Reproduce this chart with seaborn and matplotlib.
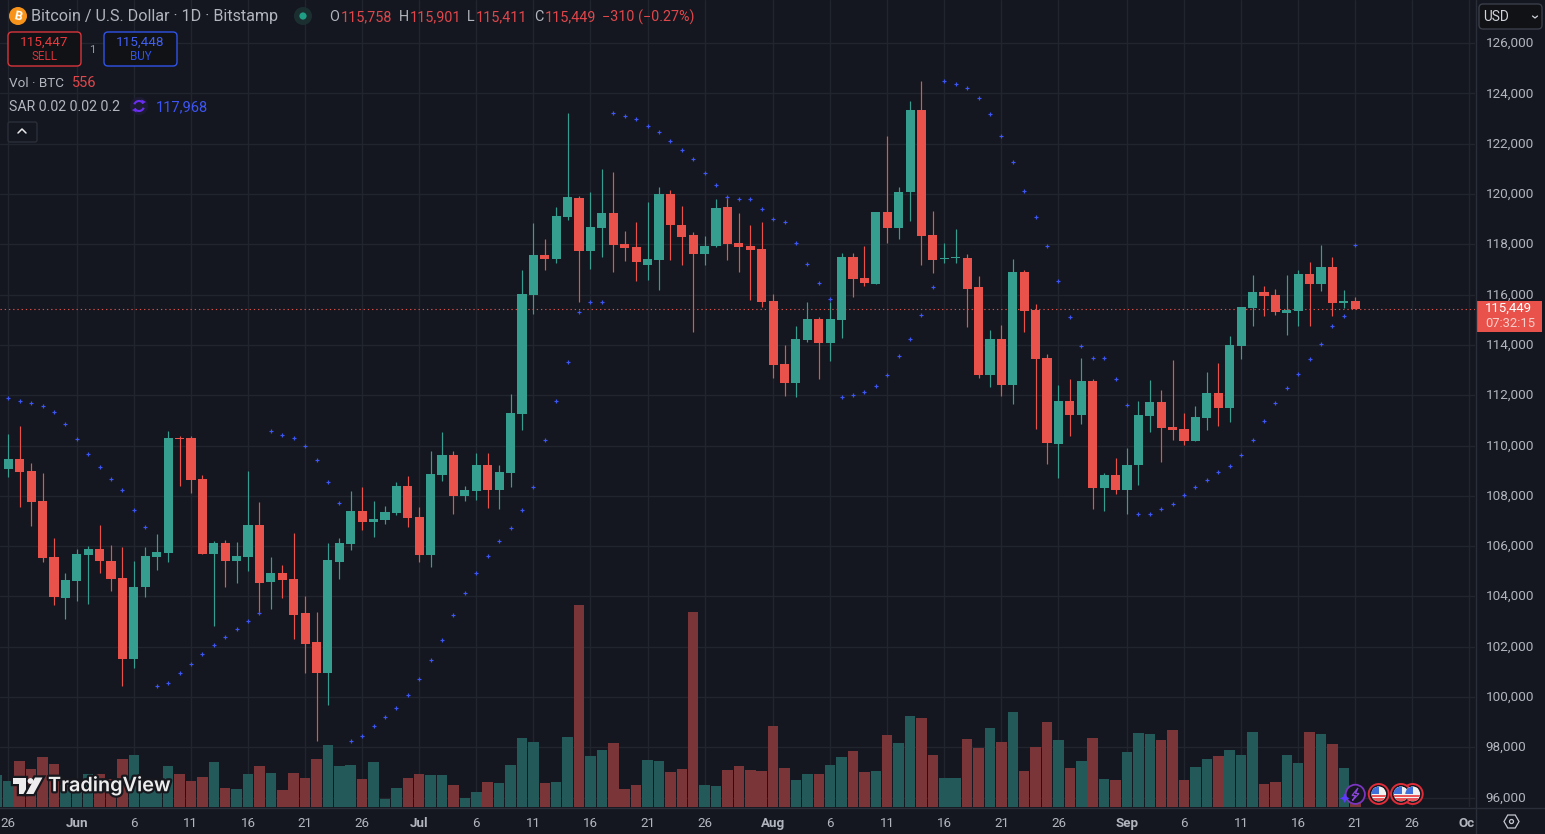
import numpy as np
import pandas as pd
import matplotlib
matplotlib.use("Agg")
import matplotlib.pyplot as plt
import matplotlib.patheffects as pe
from matplotlib.patches import Arc, Circle, FancyBboxPatch, Polygon, Rectangle, RegularPolygon
from matplotlib.transforms import ScaledTranslation
import seaborn as sns

# ---------- data ----------
opens = [109070,109470,108990,107800,105570,103940,104610,105650,105890,105410,
         104730,101510,104380,105570,105730,110300,110300,108670,105690,106130,
         105410,105570,106840,104570,104930,104690,103340,102190,100950,105370,
         106090,107400,106960,107040,107320,108390,107160,105650,108830,109630,
         108000,108190,109230,108230,108910,111260,115990,117580,117420,119090,
         119850,117740,118660,119250,118020,117900,117180,117380,120010,118780,
         118380,117620,117940,119490,118060,117940,117820,115750,113250,112490,
         114200,115040,114080,115000,117500,116670,116430,119290,118660,120090,
         123350,118380,117420,117460,117460,116310,112810,114240,112410,116910,
         115400,113490,110060,111780,111220,112570,108310,108830,108230,109230,
         111180,111740,110740,110660,110180,111100,112090,111500,113960,115470,
         116110,115990,115280,115360,116830,116430,117100,115670,115758]
closes = [109470,108950,107760,105530,103980,104650,105690,105890,105410,104690,
          101510,104380,105610,105770,110300,110260,108630,105690,106130,105410,
          105610,106840,104530,104930,104650,103260,102110,100950,105450,106130,
          107400,106960,107080,107360,108390,107120,105650,108870,109630,108000,
          108230,109230,108230,108950,111300,116030,117580,117420,119130,119890,
          117740,118700,119250,117980,117860,117300,117420,120010,118780,118300,
          117620,117940,119450,118020,117900,117780,115710,113210,112490,114240,
          115040,114080,115040,117500,116630,116470,119290,118660,120090,123350,
          118340,117380,117460,117500,116230,112810,114240,112410,116910,115360,
          113450,110100,111780,111220,112570,108310,108830,108230,109230,111220,
          111740,110700,110620,110180,111140,112090,111500,114000,115510,116110,
          115950,115320,115400,116830,116430,117100,115670,115750,115449]
highs = [110460,110780,109310,108910,106320,104930,105890,106010,106840,106050,
         105970,105410,105970,106480,110580,110380,110380,108830,106200,106240,
         106170,108990,107760,105570,105250,106520,104020,103380,106130,106320,
         108190,108350,107800,107600,108550,108790,107560,109790,110540,109790,
         108390,109710,109710,109230,112050,116990,118860,118220,119490,123230,
         119930,120090,121000,120880,118540,118900,119690,120290,120170,119530,
         118500,118340,119810,119930,119250,118780,118900,116030,114000,114760,
         115710,115120,115710,117660,117660,117940,119290,122320,120290,123710,
         124500,119330,118060,118620,117620,116750,114600,114800,117420,116990,
         115630,113640,112410,112650,113490,112650,108910,109510,109900,111780,
         112610,112210,113410,111300,111580,112930,113290,114360,115510,116790,
         116350,116230,116790,116990,117300,117980,117500,116190,115901]
lows = [108750,107560,106800,105370,103660,103100,103820,103700,104930,104220,
        100440,101150,103980,105050,105370,108390,108115,105690,102820,104380,
        104530,105010,103300,103500,103940,102310,100950,98250,99680,104690,
        105850,106640,106360,106880,107240,106760,105380,105170,108590,107280,
        107800,107840,107520,107480,108350,110620,115240,116990,117260,118970,
        115710,117030,117500,116910,117340,116550,116590,116190,117380,117190,
        114520,117190,117900,117380,116910,115790,115510,112690,111970,111930,
        114120,112650,113370,114280,115910,116350,116430,118060,118220,118940,
        117190,116870,117260,117260,114720,112690,112330,111970,111660,114520,
        110660,109270,108710,110380,110860,107480,107400,108080,107280,108430,
        110540,109350,110220,110020,110180,110620,110780,110940,113450,114760,
        115160,115200,114400,114760,114760,116150,115160,115470,115411]
sar = [111880,111760,111680,111560,111320,110850,110250,109650,109140,108660,108220,107425,106750,
       100420,100540,100940,101300,101700,102055,102370,102690,103010,103330,
       110570,110410,110290,109970,109410,108540,107700,
       98250,98440,98850,99210,99570,100080,100720,101480,102270,103265,104140,104935,
       105595,106190,106710,107425,108340,110210,111760,113310,115300,115700,115700,
       123220,123100,122980,122700,122460,122100,
       121750,121390,120830,120350,119880,119800,119800,119400,119000,118880,118050,117210,116455,115820,
       111920,112000,112120,112360,112800,113550,114230,115180,116300,
       124490,124370,124210,123815,123180,122300,
       121280,120120,119090,
       117930,116535,115100,113950,113470,113470,112640,111600,
       107270,107270,107465,107660,108020,108340,108620,108940,109175,109610,110210,110965,
       111680,112280,112835,113430,114030,114745,115140,
       117968]
volume = [1040,1840,1520,2000,1720,880,610,1320,1320,1120,
          1920,2080,880,750,1640,1320,1050,1210,1810,770,
          730,1330,1650,1370,690,1370,1170,1930,2490,1650,
          1690,1130,1810,330,770,1170,1330,1290,1290,890,
          370,610,1010,970,1690,2770,2610,970,1010,2810,
          8090,2050,2290,2570,730,890,1890,1850,1410,1530,
          7810,890,850,1490,1650,1490,1450,3250,1570,1090,
          1330,1330,1690,2010,2250,1410,1450,2890,2570,3650,
          3570,2090,1170,1170,2730,2370,3170,2610,3810,1450,
          2410,3410,2690,1570,1850,2770,1130,1090,2210,2970,
          2930,2690,3090,1090,1610,1930,2050,2290,2090,3010,
          930,1010,2090,1770,3010,2930,2530,1570,556]
previous_day_volume = 1290
last_price = 115449
price_ticks = list(range(96000, 126001, 2000))
date_ticks = [0,6,11,16,21,26,31,36,41,46,51,56,61,67,72,77,82,87,92,98,103,108,113,118,123,128]
date_labels = ["26","Jun","6","11","16","21","26","Jul","6","11","16","21","26",
               "Aug","6","11","16","21","26","Sep","6","11","16","21","26","Oc"]

# ---------- style ----------
BG = "#14171f"; GRID = "#21252e"; SEP = "#2a2e39"; TXT = "#b2b5be"
GREEN = "#359E8F"; RED = "#E8524B"; VGREEN = "#24595A"; VRED = "#793537"
BLUE = "#3D55F5"; HDR_RED = "#E0474C"
sns.set_theme(style="dark", rc={"axes.facecolor": BG, "figure.facecolor": BG})
plt.rcParams["font.family"] = ["Roboto", "DejaVu Sans"]

W, H = 1545, 834
fig = plt.figure(figsize=(W / 100, H / 100), dpi=100)
rect = [0, (H - 807) / H, 1475 / W, 807 / H]
axg = fig.add_axes(rect, zorder=0)
axv = fig.add_axes(rect, zorder=1)
ax = fig.add_axes(rect, zorder=2)
axv.patch.set_alpha(0)
ax.patch.set_alpha(0)

xmin, xmax = -0.727, 128.49
ymin, ymax = 95626, 127717

# ---------- grid ----------
axg.set_xlim(xmin, xmax)
axg.set_ylim(ymin, ymax)
axg.set_xticks(date_ticks)
axg.set_yticks(price_ticks)
axg.tick_params(length=0, labelbottom=False, labelleft=False)
axg.grid(True, color=GRID, linewidth=1.0)

# ---------- volume ----------
n = len(opens)
days = np.arange(n)
opens_a, closes_a = np.array(opens), np.array(closes)
up = closes_a >= opens_a
vol_df = pd.DataFrame({
    "day": np.r_[-1, days],
    "volume": np.r_[previous_day_volume, volume],
    "side": ["up"] + ["up" if u else "down" for u in up],
})
sns.barplot(data=vol_df, x="day", y="volume", hue="side", palette={"up": VGREEN, "down": VRED},
            native_scale=True, dodge=False, width=0.92, saturation=1, linewidth=0,
            legend=False, ax=axv)
axv.set_xlim(xmin, xmax)
axv.set_ylim(0, 32280)
axv.set_xticks([]); axv.set_yticks([])
axv.set_xlabel(""); axv.set_ylabel("")

# ---------- candles ----------
colors = np.where(up, GREEN, RED)
ax.vlines(days, lows, highs, colors=colors, linewidth=0.85, zorder=3)
ax.bar(days, np.abs(closes_a - opens_a), bottom=np.minimum(opens_a, closes_a),
       width=0.8, color=colors, linewidth=0, zorder=4)
for d, o, c, col in zip(days, opens_a, closes_a, colors):
    if abs(c - o) < 40:
        ax.hlines((o + c) / 2, d - 0.4, d + 0.4, colors=col, linewidth=0.9, zorder=4)

# ---------- SAR ----------
sar_df = pd.DataFrame({"day": days, "sar": sar})
sns.scatterplot(data=sar_df, x="day", y="sar", marker="+", s=8, color=BLUE, linewidth=0.85,
                ax=ax, zorder=5)
ax.set_xlabel(""); ax.set_ylabel("")

ax.axhline(last_price, color=RED, linewidth=0.8, linestyle=(0, (1.2, 2.6)), zorder=2, alpha=0.95)

# ---------- axes ----------
ax.set_xlim(xmin, xmax)
ax.set_ylim(ymin, ymax)
ax.set_yticks(price_ticks)
ax.set_yticklabels([f"{p:,}" for p in price_ticks])
ax.yaxis.tick_right()
ax.set_xticks(date_ticks)
ax.set_xticklabels(date_labels)
ax.tick_params(axis="y", length=0, pad=7.5, labelsize=9.7, labelcolor=TXT)
ax.tick_params(axis="x", length=0, pad=7, labelsize=9.6, labelcolor=TXT)
up_shift = ScaledTranslation(0, 1.2 / 100, fig.dpi_scale_trans)
for lab in ax.get_yticklabels():
    lab.set_verticalalignment("center_baseline")
    lab.set_transform(lab.get_transform() + up_shift)
for lab in ax.get_xticklabels():
    if lab.get_text() in ("Jun", "Jul", "Aug", "Sep", "Oc"):
        lab.set_fontweight("bold")
    if lab.get_text() == "Oc":
        lab.set_transform(lab.get_transform() + ScaledTranslation(-3 / 100, 0, fig.dpi_scale_trans))
ax.grid(False)
for axis in (ax, axv, axg):
    for s in axis.spines.values():
        s.set_visible(False)

# ---------- interface overlay, in pixel units ----------
ui = fig.add_axes([0, 0, 1, 1], zorder=10)
ui.set_xlim(0, W); ui.set_ylim(H, 0); ui.axis("off"); ui.patch.set_alpha(0)

ui.plot([1475.5, 1475.5], [0, H], color=SEP, lw=1)
ui.plot([0, W], [807.5, 807.5], color=SEP, lw=1)

def T(x, y, s, color=TXT, size=9.4, ha="left", va="center", **kw):
    return ui.text(x, y, s, color=color, fontsize=size, ha=ha, va=va, **kw)

def box(x0, y0, x1, y1, ec, fc="#101216", r=4, lw=1.0):
    ui.add_patch(FancyBboxPatch((x0 + r, y0 + r), x1 - x0 - 2 * r, y1 - y0 - 2 * r,
                                boxstyle=f"round,pad={r},rounding_size={r}",
                                ec=ec, fc=fc, lw=lw, mutation_aspect=1))

# title row
ui.add_patch(Circle((18, 16), 9, fc="#F7931A", ec="none"))
T(18, 16.3, "B", color="white", size=9, ha="center", fontweight="bold", rotation=-12)
T(31, 16.5, "Bitcoin / U.S. Dollar · 1D · Bitstamp", size=11.6)
ui.add_patch(Circle((303, 16), 9, fc="#1B2F30", ec="none"))
ui.add_patch(Circle((303, 16), 3.6, fc="#1F9D85", ec="none"))
for x, s, c in [(329, "O", TXT), (341, "115,758", HDR_RED), (398.5, "H", TXT), (410, "115,901", HDR_RED),
                (467, "L", TXT), (476, "115,411", HDR_RED), (534, "C", TXT), (545, "115,449", HDR_RED),
                (602, "−310 (−0.27%)", HDR_RED)]:
    T(x, 17, s, color=c, size=10.4)

# sell / buy
box(8, 32, 81, 66, "#D8343C")
box(104, 32, 177, 66, "#3053E8")
T(44.5, 42, "115,447", color="#E8393F", size=9.7, ha="center")
T(44.5, 56.5, "SELL", color="#D8343C", size=8.4, ha="center")
T(140.5, 42, "115,448", color="#4260F0", size=9.7, ha="center")
T(140.5, 56.5, "BUY", color="#3053E8", size=8.4, ha="center")
T(92.5, 49.5, "1", size=8.2, ha="center", color="#9598A1")

# indicator legends
T(9, 83, "Vol · BTC", size=9.7)
T(72, 83, "556", color=HDR_RED, size=10.5)
T(9, 107, "SAR 0.02 0.02 0.2", size=10.2)
ui.add_patch(Circle((139, 106), 9, fc="#1D1B33", ec="none"))
ui.add_patch(Arc((139, 106), 10, 10, theta1=200, theta2=330, ec="#6A2EF0", lw=1.5))
ui.add_patch(Arc((139, 106), 10, 10, theta1=20, theta2=150, ec="#6A2EF0", lw=1.5))
ui.add_patch(Polygon([(141.5, 99.5), (146, 102), (142, 104)], fc="#6A2EF0", ec="none"))
ui.add_patch(Polygon([(136.5, 112.5), (132, 110), (136, 108)], fc="#6A2EF0", ec="none"))
T(156, 107, "117,968", color=BLUE, size=10.5)
box(8, 122, 37, 142, SEP, fc=BG, r=2)
ui.plot([18, 22, 26], [133, 129, 133], color="#E8E8EA", lw=1.1)

# currency selector
box(1479, 4, 1542, 29, "#3A3E49", fc="#101216", r=4)
T(1483, 16.5, "USD", size=9.8, color="#D1D4DC")
ui.plot([1532.5, 1535, 1537.5], [16, 18, 16], color="#D1D4DC", lw=0.9)

# last price tag
ui.add_patch(Rectangle((1476, 301), 66, 31, fc=RED, ec="none"))
T(1509, 308.5, "115,449", color="white", size=9.5, ha="center")
T(1510, 323.5, "07:32:15", color="#F9CFCB", size=9.4, ha="center")

# settings button
ui.add_patch(RegularPolygon((1511.5, 821.5), 6, radius=7.5, orientation=np.pi / 2 + np.pi / 6 * 2,
                            fc="none", ec="#C5C8D0", lw=0.9))
ui.add_patch(Circle((1511.5, 821.5), 2, fc="none", ec="#C5C8D0", lw=0.9))

# TradingView mark
stroke = [pe.withStroke(linewidth=3.2, foreground="#16181d")]
for pts in ([(12.5, 777.5), (25.5, 777.5), (25.5, 794), (18.5, 794), (18.5, 783.5), (12.5, 783.5)],
            [(35, 777.5), (42.5, 777.5), (33.5, 794), (26, 794)]):
    p = Polygon(pts, fc="#EDEDED", ec="none")
    ui.add_patch(p); p.set_path_effects([pe.withStroke(linewidth=3.2, foreground="#16181d")])
c = Circle((30.5, 781), 2.9, fc="#EDEDED", ec="none"); ui.add_patch(c)
T(48, 786, "TradingView", color="#EDEDED", size=14.3, fontweight="semibold",
  family=["Inter", "DejaVu Sans"], path_effects=stroke)

# event icons
def flag(cx, cy=794):
    ui.add_patch(Circle((cx, cy), 10, fc=BG, ec="#E02B38", lw=1.4, zorder=3))
    disc = Circle((cx, cy), 7.4, fc="#F1F1F1", ec="none", zorder=4)
    ui.add_patch(disc)
    for y0, col in [(cy - 8, "#F1F1F1"), (cy + 0.6, "#E8565A"), (cy + 4.2, "#E8565A")]:
        r = Rectangle((cx - 8, y0), 16, 2.6, fc=col, ec="none", zorder=5)
        ui.add_patch(r); r.set_clip_path(disc)
    r = Rectangle((cx - 8, cy - 8), 8.5, 7.8, fc="#3F6FD8", ec="none", zorder=6)
    ui.add_patch(r); r.set_clip_path(disc)

flag(1412.7); flag(1401); flag(1378.7)
ui.add_patch(Circle((1355.3, 794.3), 9.6, fc=BG, ec="#7B35C0", lw=1.3, zorder=3))
ui.add_patch(Polygon([(1358, 788), (1352, 795.5), (1355.5, 795.5), (1352.5, 800.5), (1359, 793.5),
                      (1355.5, 793.5)], fc="none", ec="#8A45D8", lw=0.9, zorder=4))
ui.add_patch(Polygon([(1344.7, 793.5), (1346.3, 796.8), (1349.6, 798.3), (1346.3, 799.8), (1344.7, 803),
                      (1343.1, 799.8), (1339.8, 798.3), (1343.1, 796.8)], fc="#5B3BFF", ec="none", zorder=4))

fig.savefig("out.png", dpi=100, facecolor=BG)
